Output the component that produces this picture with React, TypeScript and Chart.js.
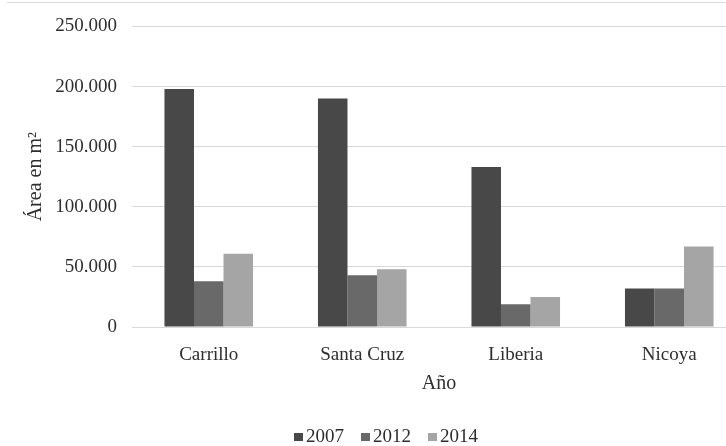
import React, { useEffect, useRef } from "react";
import { Chart, registerables } from "chart.js";

Chart.register(...registerables);

const categories = ["Carrillo", "Santa Cruz", "Liberia", "Nicoya"];
const seriesLabels = ["2007", "2012", "2014"];
const values2007 = [198000, 190000, 133000, 32000];
const values2012 = [38000, 43000, 19000, 32000];
const values2014 = [61000, 48000, 25000, 67000];
const yTicks = [0, 50000, 100000, 150000, 200000, 250000];
const colors = ["#484848", "#696969", "#a5a5a5"];

const FONT = "'Liberation Serif', 'Times New Roman', serif";
const TEXT = "#2e2e2e";

function fmt(v: number): string {
  if (v === 0) return "0";
  const s = String(Math.round(v));
  return s.replace(/\B(?=(\d{3})+(?!\d))/g, ".");
}

// Legend drawn by a small plugin (Excel-style: tight box/text spacing)
const bottomLegend = {
  id: "bottomLegend",
  afterDraw(chart: any) {
    const ctx = chart.ctx as CanvasRenderingContext2D;
    const ds = chart.data.datasets;
    ctx.save();
    ctx.font = `19px ${FONT}`;
    ctx.textBaseline = "middle";
    ctx.textAlign = "left";
    const box = 9;
    const gap = 3;
    const spacing = 17;
    const widths = ds.map((d: any) => ctx.measureText(d.label).width);
    const total =
      widths.reduce((a: number, w: number) => a + box + gap + w, 0) +
      spacing * (ds.length - 1);
    let x = chart.width / 2 - total / 2;
    const cy = 437;
    ds.forEach((d: any, i: number) => {
      ctx.fillStyle = d.backgroundColor;
      ctx.fillRect(x, cy - 4, box, 8);
      ctx.fillStyle = TEXT;
      ctx.fillText(d.label, x + box + gap, cy);
      x += box + gap + widths[i] + spacing;
    });
    ctx.restore();
  },
};

export default function App() {
  const ref = useRef<HTMLCanvasElement | null>(null);
  useEffect(() => {
    if (!ref.current) return;
    const all = [values2007, values2012, values2014];
    const chart = new Chart(ref.current, {
      type: "bar",
      data: {
        labels: categories,
        datasets: seriesLabels.map((l, i) => ({
          label: l,
          data: all[i],
          backgroundColor: colors[i],
          borderWidth: 0,
          barPercentage: 1,
          categoryPercentage: 0.577,
        })),
      },
      plugins: [bottomLegend],
      options: {
        animation: false,
        responsive: false,
        devicePixelRatio: 1,
        layout: { padding: { top: 25, right: 26, left: 0, bottom: 0 } },
        plugins: {
          tooltip: { enabled: false },
          legend: { display: false },
        },
        scales: {
          x: {
            grid: { display: false, drawTicks: false },
            border: { display: false },
            ticks: { color: TEXT, font: { family: FONT, size: 19 }, padding: 17 },
            title: {
              display: true,
              text: "Año",
              color: TEXT,
              font: { family: FONT, size: 20 },
              padding: { top: 0, bottom: 50 },
            },
            afterFit: (s: any) => {
              s.height = 119;
            },
          },
          y: {
            min: 0,
            max: 250000,
            afterBuildTicks: (s: any) => {
              s.ticks = yTicks.map((v) => ({ value: v }));
            },
            grid: { color: "#d9d9d9", lineWidth: 1, drawTicks: false },
            border: { display: false },
            ticks: {
              color: TEXT,
              font: { family: FONT, size: 19 },
              padding: 15,
              callback: (v: any) => fmt(Number(v)),
            },
            title: {
              display: true,
              text: "Área en m²",
              color: TEXT,
              font: { family: FONT, size: 20 },
              padding: { top: 24, bottom: 0 },
            },
            afterFit: (s: any) => {
              s.width = 132;
            },
          },
        },
      },
    });
    return () => chart.destroy();
  }, []);
  return (
    <div
      style={{
        position: "absolute",
        left: 0,
        top: 0,
        width: 726,
        height: 446,
        overflow: "hidden",
        background: "#fff",
      }}
    >
      <div
        style={{
          position: "absolute",
          left: 7,
          top: 2,
          width: 765,
          height: 1,
          background: "#dcdcdc",
        }}
      />
      <canvas ref={ref} width={772} height={446} style={{ display: "block" }} />
    </div>
  );
}
